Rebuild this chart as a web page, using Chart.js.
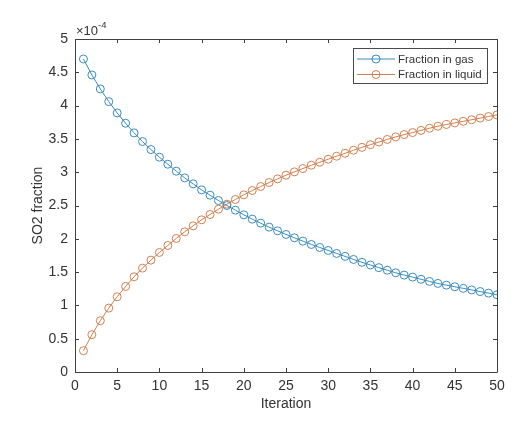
<!DOCTYPE html>
<html>
<head>
<meta charset="utf-8">
<title>SO2 fraction</title>
<script src="https://cdn.jsdelivr.net/npm/chart.js@4"></script>
<style>
  body { margin: 0; background: #fff; }
  #wrap { width: 532px; height: 427px; }
</style>
</head>
<body>
<div id="wrap"><canvas id="so2Chart" width="532" height="427"></canvas></div>
<script>
// values, in units of 1e-4
const iterations = [];
for (let i = 1; i <= 50; i++) iterations.push(i);

const gasE4 = [
  4.70, 4.46, 4.25, 4.06, 3.89, 3.735, 3.59, 3.46, 3.34, 3.225,
  3.12, 3.015, 2.915, 2.825, 2.735, 2.655, 2.575, 2.50, 2.43, 2.36,
  2.295, 2.235, 2.175, 2.12, 2.065, 2.015, 1.965, 1.915, 1.87, 1.825,
  1.78, 1.736, 1.69, 1.647, 1.607, 1.567, 1.528, 1.49, 1.455, 1.425,
  1.392, 1.36, 1.33, 1.304, 1.28, 1.256, 1.232, 1.208, 1.184, 1.16
];
const liquidE4 = [
  0.32, 0.56, 0.77, 0.96, 1.13, 1.285, 1.43, 1.56, 1.68, 1.795,
  1.90, 2.005, 2.105, 2.195, 2.285, 2.365, 2.445, 2.52, 2.59, 2.66,
  2.725, 2.785, 2.845, 2.90, 2.955, 3.005, 3.055, 3.105, 3.15, 3.195,
  3.24, 3.284, 3.33, 3.373, 3.413, 3.453, 3.492, 3.53, 3.565, 3.595,
  3.628, 3.66, 3.69, 3.716, 3.74, 3.764, 3.788, 3.812, 3.836, 3.86
];
const seriesLabels = ['Fraction in gas', 'Fraction in liquid'];
const exponent = '-4';

const FONT = '"Liberation Sans", Arial, Helvetica, sans-serif';
const AXIS_COLOR = '#404040';
const TEXT_COLOR = '#333333';
const GAS_COLOR = '#3b8bbd';
const LIQUID_COLOR = '#d2804f';

function toPoints(ys) {
  return ys.map((v, i) => ({ x: iterations[i], y: v }));
}

// MATLAB-like box, inward ticks, exponent and legend
const matlabAxes = {
  id: 'matlabAxes',
  afterDraw(chart) {
    const ctx = chart.ctx;
    const a = chart.chartArea;
    const x = chart.scales.x, y = chart.scales.y;
    const tl = 4;
    ctx.save();
    ctx.strokeStyle = AXIS_COLOR;
    ctx.lineWidth = 1;
    ctx.beginPath();
    ctx.rect(Math.round(a.left) + 0.5, Math.round(a.top) + 0.5,
             Math.round(a.width), Math.round(a.height));
    x.ticks.forEach(t => {
      const px = Math.round(x.getPixelForValue(t.value)) + 0.5;
      ctx.moveTo(px, a.bottom); ctx.lineTo(px, a.bottom - tl);
      ctx.moveTo(px, a.top); ctx.lineTo(px, a.top + tl);
    });
    y.ticks.forEach(t => {
      const py = Math.round(y.getPixelForValue(t.value)) + 0.5;
      ctx.moveTo(a.left, py); ctx.lineTo(a.left + tl, py);
      ctx.moveTo(a.right, py); ctx.lineTo(a.right - tl, py);
    });
    ctx.stroke();

    // exponent label
    ctx.fillStyle = TEXT_COLOR;
    ctx.textBaseline = 'alphabetic';
    ctx.textAlign = 'left';
    ctx.font = '13px ' + FONT;
    ctx.fillText('\u00d710', a.left + 1, a.top - 4);
    const w = ctx.measureText('\u00d710').width;
    ctx.font = '9.5px ' + FONT;
    ctx.fillText(exponent, a.left + 1 + w, a.top - 11);

    // legend
    const lx = 353, ly = 48, lw = 134, lh = 35;
    ctx.fillStyle = '#fff';
    ctx.fillRect(lx, ly, lw, lh);
    ctx.strokeStyle = '#4a4a4a';
    ctx.strokeRect(lx + 0.5, ly + 0.5, lw, lh);
    ctx.font = '11.5px ' + FONT;
    ctx.textBaseline = 'middle';
    chart.data.datasets.forEach((ds, i) => {
      const cy = ly + 11 + i * 15.5;
      ctx.strokeStyle = ds.borderColor;
      ctx.lineWidth = 1;
      ctx.beginPath();
      ctx.moveTo(357, cy); ctx.lineTo(395, cy);
      ctx.stroke();
      ctx.beginPath();
      ctx.arc(376, cy, 4, 0, Math.PI * 2);
      ctx.stroke();
      ctx.fillStyle = TEXT_COLOR;
      ctx.fillText(ds.label, 398, cy + 0.5);
    });
    ctx.restore();
  }
};

const ctx = document.getElementById('so2Chart').getContext('2d');
const so2Chart = new Chart(ctx, {
  type: 'line',
  data: {
    datasets: [
      {
        label: seriesLabels[0],
        data: toPoints(gasE4),
        borderColor: GAS_COLOR,
        borderWidth: 1,
        pointRadius: 4,
        pointBorderWidth: 1,
        pointBorderColor: GAS_COLOR,
        pointBackgroundColor: 'rgba(0,0,0,0)',
        fill: false,
        tension: 0
      },
      {
        label: seriesLabels[1],
        data: toPoints(liquidE4),
        borderColor: LIQUID_COLOR,
        borderWidth: 1,
        pointRadius: 4,
        pointBorderWidth: 1,
        pointBorderColor: LIQUID_COLOR,
        pointBackgroundColor: 'rgba(0,0,0,0)',
        fill: false,
        tension: 0
      }
    ]
  },
  options: {
    responsive: false,
    animation: false,
    devicePixelRatio: 1,
    layout: { padding: { left: 30, top: 39, right: 35, bottom: 14 } },
    scales: {
      x: {
        type: 'linear',
        min: 0,
        max: 50,
        grid: { display: false, drawTicks: false },
        border: { display: false },
        ticks: { stepSize: 5, padding: 6, color: TEXT_COLOR, font: { family: FONT, size: 14 } },
        title: { display: true, text: 'Iteration', color: TEXT_COLOR, padding: 0,
                 font: { family: FONT, size: 14 } },
        afterFit(scale) { scale.height = 41; }
      },
      y: {
        min: 0,
        max: 5,
        grid: { display: false, drawTicks: false },
        border: { display: false },
        ticks: {
          stepSize: 0.5, padding: 7, color: TEXT_COLOR, font: { family: FONT, size: 14 },
          callback: v => String(Math.round(v * 10) / 10)
        },
        title: { display: true, text: 'SO2 fraction', color: TEXT_COLOR, padding: 0,
                 font: { family: FONT, size: 14 } },
        afterFit(scale) { scale.width = 45; }
      }
    },
    plugins: {
      legend: { display: false },
      tooltip: { enabled: false }
    }
  },
  plugins: [matlabAxes]
});
</script>
</body>
</html>
